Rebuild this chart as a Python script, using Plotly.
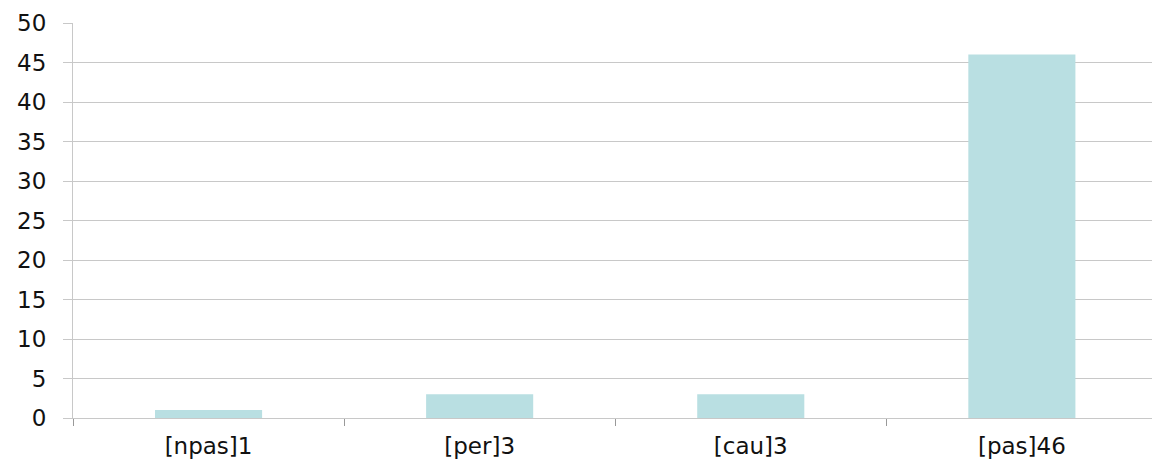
import plotly.graph_objects as go

categories = ["[npas]1", "[per]3", "[cau]3", "[pas]46"]
counts = [1, 3, 3, 46]
y_ticks = [0, 5, 10, 15, 20, 25, 30, 35, 40, 45, 50]

grid_color = "#c8c8c8"

fig = go.Figure(
    go.Bar(
        x=categories,
        y=counts,
        marker=dict(color="#b9dfe2", line=dict(width=0)),
        hoverinfo="x+y",
    )
)

fig.update_layout(
    width=1152,
    height=462,
    margin=dict(l=73, r=0, t=23, b=44),
    paper_bgcolor="white",
    plot_bgcolor="white",
    bargap=0.605,
    showlegend=False,
    font=dict(family="DejaVu Sans, sans-serif", size=23, color="#111111"),
)

fig.update_xaxes(
    range=[-0.5, 3.48],
    showgrid=False,
    showline=True,
    linecolor=grid_color,
    linewidth=1,
    ticks="outside",
    tickson="boundaries",
    ticklen=7,
    tickcolor="#999999",
    tickwidth=1,
    ticklabelstandoff=7,
    tickfont=dict(size=23),
)

fig.update_yaxes(
    range=[0, 50],
    tickvals=y_ticks,
    showgrid=True,
    gridcolor=grid_color,
    gridwidth=1,
    showline=True,
    linecolor=grid_color,
    linewidth=1,
    ticks="outside",
    ticklen=9,
    tickcolor=grid_color,
    tickwidth=1,
    ticklabelstandoff=12,
    zeroline=False,
    tickfont=dict(size=23),
)

fig.write_html("out.html")
